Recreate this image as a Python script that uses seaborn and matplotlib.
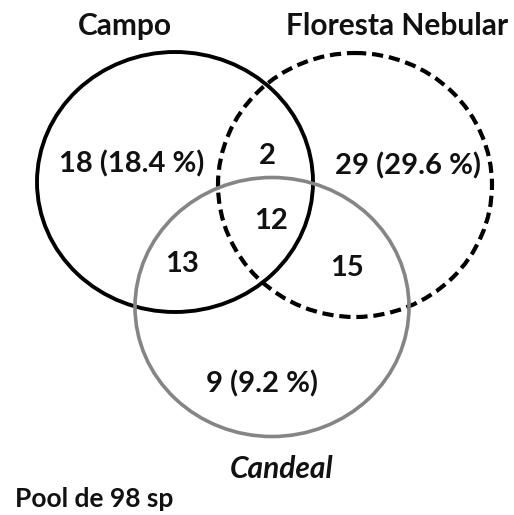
import matplotlib
matplotlib.use("Agg")
import matplotlib.pyplot as plt
from matplotlib.patches import Ellipse
import seaborn as sns

# ---- data ----
set_names = ["Campo", "Floresta Nebular", "Candeal"]
region_labels = ["Campo only", "Floresta only", "Candeal only",
                 "Campo & Floresta", "Campo & Candeal", "Floresta & Candeal", "All"]
region_counts = [18, 29, 9, 2, 13, 15, 12]
show_pct = [True, True, True, False, False, False, False]
pool_size = 98

sns.set_theme(style="white")
plt.rcParams['font.family'] = ['Lato', 'DejaVu Sans']

fig = plt.figure(figsize=(5.14, 5.15), dpi=100)
ax = fig.add_axes([0, 0, 1, 1])
ax.set_xlim(0, 514)
ax.set_ylim(515, 0)
ax.axis("off")

# circles (center x, center y, width, height) in pixel-like coords
shapes = [
    dict(xy=(175, 182), w=276, h=260, color="black", ls="-", lw=2.8),
    dict(xy=(355, 185), w=274, h=264, color="black", ls=(0, (2.7, 1.4)), lw=3.0),
    dict(xy=(272, 307), w=274, h=259, color="#858585", ls="-", lw=2.6),
]
for s in shapes:
    ax.add_patch(Ellipse(s["xy"], s["w"], s["h"], fill=False, edgecolor=s["color"],
                         linestyle=s["ls"], linewidth=s["lw"]))

# region text positions
region_pos = [(132, 164), (408, 166), (262, 384), (267, 156), (182, 264), (347, 268), (271, 221)]
for (x, y), c, p in zip(region_pos, region_counts, show_pct):
    txt = f"{c} ({c / pool_size * 100:.1f} %)" if p else f"{c}"
    ax.text(x, y, txt, ha="center", va="center", fontsize=21, fontweight="bold", color="#111111")

# set names
name_pos = [(125, 26), (397, 26), (282, 469)]
name_style = ["normal", "normal", "italic"]
for (x, y), n, st in zip(name_pos, set_names, name_style):
    ax.text(x, y, n, ha="center", va="center", fontsize=21.5, fontweight="bold",
            fontstyle=st, color="#111111")

ax.text(15, 499, f"Pool de {pool_size} sp", ha="left", va="center", fontsize=19,
        fontweight="bold", color="#111111")

fig.savefig("out.png", dpi=100)
